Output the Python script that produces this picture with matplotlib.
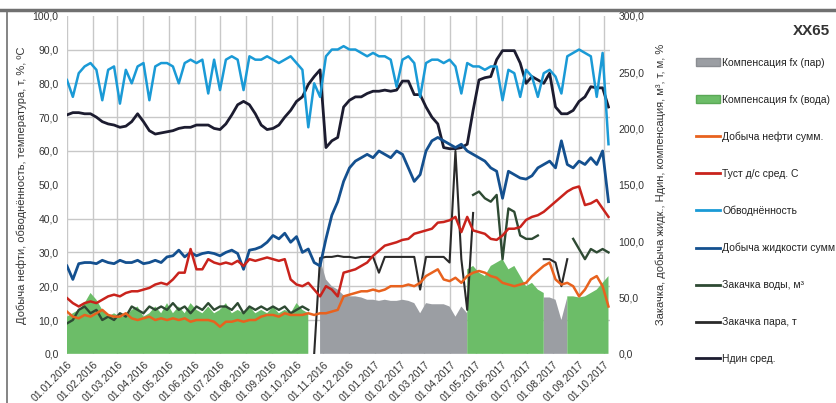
import numpy as np
import pandas as pd
import matplotlib
matplotlib.use("Agg")
import matplotlib.pyplot as plt
import matplotlib.dates as mdates
from matplotlib.ticker import FuncFormatter, MultipleLocator
from matplotlib.patches import Patch
from matplotlib.lines import Line2D

nan = np.nan

# недельная сетка дат
dates = pd.date_range("2016-01-01", periods=93, freq="7D")

# левая ось: %, т, °C
obvodn = [81, 76, 83, 85, 86, 84, 75, 84, 85, 74,
          84, 80, 85, 86, 75, 85, 86, 86, 85, 80,
          86, 87, 86, 87, 77, 87, 78, 87, 88, 87,
          78, 88, 87, 87, 88, 87, 86, 87, 88, 86,
          84, 67, 80, 76, 88, 90, 90, 91, 90, 90,
          89, 88, 89, 88, 88, 87, 79, 87, 88, 86,
          76, 86, 87, 87, 86, 87, 85, 77, 86, 85,
          85, 84, 85, 85, 75, 84, 83, 76, 84, 82,
          76, 83, 84, 82, 77, 88, 89, 90, 89, 88,
          76, 89, 62]

t_ust = [16.5, 15, 14, 15, 15.5, 15, 16, 17, 17.5, 17,
         18, 18.5, 18.5, 19, 19.5, 20.5, 21, 20.5, 22, 24,
         24, 31, 25, 25, 28, 27, 26.5, 27, 26.5, 27.5,
         26, 28, 27.5, 28, 28.5, 28, 27.5, 28, 22, 20.5,
         20, 21, 19, 17, 20, 19, 17, 24, 24.5, 25,
         26, 27, 29, 30.5, 32, 32.5, 33, 33.7, 34, 35.5,
         36, 36.5, 37, 38.8, 39, 39.5, 40.5, 36, 40.5, 36.5,
         36, 35.5, 34, 33.7, 35, 37, 37, 37.5, 39.6, 40.5,
         41, 42, 43.5, 45, 46.5, 48, 49, 49.5, 44, 44.5,
         45.5, 43, 40.5]

oil = [12.5, 11, 10.5, 11.5, 11, 12, 13, 11.5, 11, 11,
       12, 10.5, 10, 10.5, 11, 10, 10.5, 10, 10.5, 10,
       10.5, 9.5, 10, 10, 10, 9.5, 8, 9.5, 9.5, 10,
       9.5, 10, 10, 11, 11.5, 11.5, 11, 12, 11.5, 11.5,
       11.5, 12, 11.5, 12, 12, 12.5, 13, 17, 17.5, 18,
       18.5, 18.5, 19, 18.5, 19, 20, 20, 20, 20.5, 20,
       21, 23, 24, 25, 22, 21.5, 22.5, 21, 23, 24,
       24.5, 24, 23, 22.5, 21, 20.5, 20, 20.5, 21, 23,
       24.5, 26, 27, 22, 20.5, 21, 20, 17, 19, 22,
       23, 20, 14]

# правая ось: м3, т, м, %
liquid = [78, 66, 80, 81, 81, 80, 83, 81, 80, 83,
          81, 81, 83, 80, 81, 83, 81, 86, 87, 92,
          86, 90, 87, 89, 90, 89, 87, 90, 92, 89,
          75, 92, 93, 95, 99, 105, 102, 107, 99, 104,
          90, 93, 81, 78, 102, 123, 135, 153, 165, 171,
          174, 177, 174, 180, 177, 174, 180, 177, 165, 153,
          159, 180, 189, 192, 189, 186, 183, 186, 180, 177,
          174, 171, 165, 162, 138, 162, 159, 156, 155, 158,
          165, 168, 171, 165, 189, 168, 165, 171, 168, 174,
          168, 180, 135]

ndin = [212, 214, 214, 213, 213, 210, 206, 204, 203, 201,
        202, 206, 213, 206, 198, 195, 196, 197, 198, 200,
        201, 201, 203, 203, 203, 200, 199, 204, 212, 221,
        224, 221, 213, 203, 199, 200, 203, 210, 216, 224,
        228, 239, 246, 252, 183, 189, 192, 219, 225, 228,
        228, 231, 233, 233, 234, 233, 234, 242, 242, 230,
        230, 219, 210, 204, 183, 182, 182, 183, 186, 216,
        243, 245, 246, 261, 269, 269, 269, 258, 240, 246,
        243, 240, 249, 219, 213, 213, 216, 224, 228, 237,
        236, 236, 219]

water_inj = [27, 30, 39, 42, 36, 39, 30, 33, 30, 36,
             33, 42, 39, 36, 42, 39, 42, 39, 45, 39,
             42, 36, 42, 39, 45, 39, 42, 42, 39, 45,
             36, 42, 39, 42, 39, 42, 39, 42, 36, 39,
             42, 39, nan, nan, nan, nan, nan, nan, nan, nan,
             nan, nan, nan, nan, nan, nan, nan, nan, nan, nan,
             nan, nan, nan, nan, nan, nan, nan, nan, nan, 141,
             144, 138, 135, 141, 84, 129, 126, 105, 102, 102,
             105, nan, nan, nan, nan, nan, 102, 93, 84, 93,
             90, 93, 90]

steam_inj = [nan, nan, nan, nan, nan, nan, nan, nan, nan, nan,
             nan, nan, nan, nan, nan, nan, nan, nan, nan, nan,
             nan, nan, nan, nan, nan, nan, nan, nan, nan, nan,
             nan, nan, nan, nan, nan, nan, nan, nan, nan, nan,
             nan, nan, 0, 85, 86, 86, 87, 86, 86, 85,
             86, 86, 86, 72, 86, 86, 86, 86, 86, 86,
             57, 86, 86, 86, 86, 81, 180, 84, 39, 125,
             nan, nan, nan, nan, nan, nan, nan, nan, nan, nan,
             nan, 84, 84, 81, 60, 84, nan, nan, nan, nan,
             nan, nan, nan]

comp_steam = [nan, nan, nan, nan, nan, nan, nan, nan, nan, nan,
              nan, nan, nan, nan, nan, nan, nan, nan, nan, nan,
              nan, nan, nan, nan, nan, nan, nan, nan, nan, nan,
              nan, nan, nan, nan, nan, nan, nan, nan, nan, nan,
              nan, nan, nan, 84, 66, 60, 57, 52, 51, 51,
              50, 48, 48, 47, 48, 47, 47, 48, 47, 45,
              36, 45, 44, 44, 44, 42, 33, 42, 36, nan,
              nan, nan, nan, nan, nan, nan, nan, nan, nan, nan,
              nan, 50, 50, 48, 30, 50, nan, nan, nan, nan,
              nan, nan, nan]

comp_water = [33, 36, 39, 45, 54, 48, 39, 33, 36, 33,
              33, 39, 42, 33, 36, 42, 36, 45, 36, 42,
              36, 45, 39, 36, 42, 36, 39, 45, 36, 39,
              36, 42, 36, 39, 36, 42, 36, 39, 36, 45,
              39, 36, nan, nan, nan, nan, nan, nan, nan, nan,
              nan, nan, nan, nan, nan, nan, nan, nan, nan, nan,
              nan, nan, nan, nan, nan, nan, nan, nan, 75, 78,
              72, 69, 78, 81, 84, 75, 78, 69, 60, 63,
              57, 54, nan, nan, nan, 51, 51, 50, 51, 54,
              57, 63, 69]

c_gray = "#9b9ea3"
c_green = "#6cbd68"
c_oil = "#e8621e"
c_tust = "#c9231c"
c_obv = "#1a9ad6"
c_liq = "#14508f"
c_wat = "#2e4a33"
c_steam = "#2a2a2a"
c_ndin = "#1c1c30"

plt.rcParams["font.family"] = ["Liberation Sans", "DejaVu Sans"]

fig = plt.figure(figsize=(8.37, 4.03), dpi=100)
axr = fig.add_axes([0.080, 0.122, 0.649, 0.839])
axl = axr.twinx()
axr.yaxis.tick_right()
axr.yaxis.set_label_position("right")
axl.yaxis.tick_left()
axl.yaxis.set_label_position("left")

# правая ось - площади и линии закачки
axr.fill_between(dates, 0, comp_steam, color=c_gray, lw=0)
axr.fill_between(dates, 0, comp_water, color=c_green, lw=0)
axr.plot(dates, water_inj, color=c_wat, lw=1.7)
axr.plot(dates, steam_inj, color=c_steam, lw=1.5)
axr.plot(dates, ndin, color=c_ndin, lw=2)
axr.plot(dates, liquid, color=c_liq, lw=2)

# левая ось
axl.plot(dates, oil, color=c_oil, lw=1.8)
axl.plot(dates, t_ust, color=c_tust, lw=1.8)
axl.plot(dates, obvodn, color=c_obv, lw=1.8)

axr.set_ylim(0, 300)
axl.set_ylim(0, 100)
axr.set_xlim(pd.Timestamp("2016-01-01"), pd.Timestamp("2017-10-08"))

fmt = FuncFormatter(lambda v, p: f"{v:.1f}".replace(".", ","))
axl.yaxis.set_major_locator(MultipleLocator(10))
axl.yaxis.set_major_formatter(fmt)
axr.yaxis.set_major_locator(MultipleLocator(50))
axr.yaxis.set_minor_locator(MultipleLocator(30))
axr.yaxis.set_major_formatter(fmt)

axr.xaxis.set_major_locator(mdates.MonthLocator())
axr.xaxis.set_major_formatter(mdates.DateFormatter("%d.%m.%Y"))
for lab in axr.get_xticklabels():
    lab.set_rotation(45)
    lab.set_ha("right")
    lab.set_rotation_mode("anchor")

axr.set_axisbelow(True)
axr.grid(axis="x", which="major", color="#c8c8c8", lw=1)
axr.grid(axis="y", which="minor", color="#c8c8c8", lw=1)

for a in (axl, axr):
    for s in a.spines.values():
        s.set_visible(False)
    a.tick_params(length=0, labelsize=7.5, colors="#333333", which="both")
axr.tick_params(axis="x", pad=4)
axr.tick_params(axis="y", pad=6)
axl.tick_params(axis="y", pad=6)

axl.set_ylabel("Добыча нефти, обводнённость, температура, т, %, \u00baС",
               fontsize=8, color="#333333", labelpad=4)
axr.set_ylabel("Закачка, добыча жидк., Ндин, компенсация, м³, т, м, %",
               fontsize=8, color="#333333", labelpad=8)

handles = [
    Patch(facecolor=c_gray, edgecolor="#8a8d92"),
    Patch(facecolor=c_green, edgecolor="#5aa856"),
    Line2D([], [], color=c_oil, lw=2),
    Line2D([], [], color=c_tust, lw=2),
    Line2D([], [], color=c_obv, lw=2),
    Line2D([], [], color=c_liq, lw=2),
    Line2D([], [], color=c_wat, lw=2),
    Line2D([], [], color=c_steam, lw=2),
    Line2D([], [], color=c_ndin, lw=2),
]
labels = ["Компенсация fx (пар)", "Компенсация fx (вода)", "Добыча нефти сумм.",
          "Туст д/с сред. С", "Обводнённость", "Добыча жидкости сумм",
          "Закачка воды, м³", "Закачка пара, т", "Ндин сред."]
fig.legend(handles, labels, loc="upper left", bbox_to_anchor=(0.832, 0.857),
           frameon=False, fontsize=7.5, labelspacing=2.58, handlelength=2.3,
           handletextpad=0.2, borderaxespad=0, borderpad=0, labelcolor="#222222")

fig.text(0.992, 0.923, "XX65", ha="right", va="center", fontsize=11,
         fontweight="bold", color="#333333")

# рамка сверху и слева
fig.add_artist(Line2D([0, 1], [0.975, 0.975], transform=fig.transFigure,
                      color="#707070", lw=2.5))
fig.add_artist(Line2D([0.0084, 0.0084], [0, 0.975], transform=fig.transFigure,
                      color="#707070", lw=1.2))

fig.savefig("out.png", dpi=100)
